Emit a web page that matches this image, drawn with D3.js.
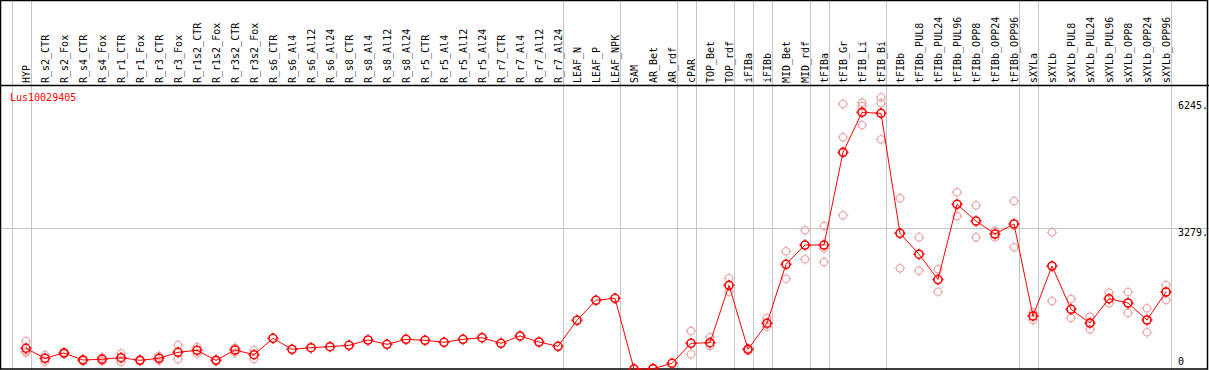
<!DOCTYPE html>
<html>
<head>
<meta charset="utf-8">
<script src="https://cdn.jsdelivr.net/npm/d3@7"></script>
<style>
  body { margin: 0; background: #fff; }
  svg { display: block; }
  text { font-family: "DejaVu Sans Mono", monospace; font-size: 10px; }
</style>
</head>
<body>
<script>
// sample names (columns)
const samples = ["HYP","R_s2_CTR","R_s2_Fox","R_s4_CTR","R_s4_Fox","R_r1_CTR","R_r1_Fox","R_r3_CTR","R_r3_Fox",
  "R_r1s2_CTR","R_r1s2_Fox","R_r3s2_CTR","R_r3s2_Fox","R_s6_CTR","R_s6_Al4","R_s6_Al12","R_s6_Al24",
  "R_s8_CTR","R_s8_Al4","R_s8_Al12","R_s8_Al24","R_r5_CTR","R_r5_Al4","R_r5_Al12","R_r5_Al24",
  "R_r7_CTR","R_r7_Al4","R_r7_Al12","R_r7_Al24","LEAF_N","LEAF_P","LEAF_NPK","SAM","AR_Bet","AR_rdf",
  "cPAR","TOP_Bet","TOP_rdf","iFIBa","iFIBb","MID_Bet","MID_rdf","tFIBa","tFIB_Gr","tFIB_Li","tFIB_Bi",
  "tFIBb","tFIBb_PUL8","tFIBb_PUL24","tFIBb_PUL96","tFIBb_OPP8","tFIBb_OPP24","tFIBb_OPP96",
  "sXYLa","sXYLb","sXYLb_PUL8","sXYLb_PUL24","sXYLb_PUL96","sXYLb_OPP8","sXYLb_OPP24","sXYLb_OPP96"];

// mean expression
const means = [482,249,373,210,226,263,203,249,389,436,203,443,333,715,459,496,520,552,676,575,692,669,622,692,729,
  599,769,629,529,1135,1601,1647,0,8,133,599,613,1950,459,1065,2440,2889,2889,5049,5981,5958,
  3162,2675,2085,3838,3448,3146,3379,1235,2400,1391,1072,1638,1538,1142,1794];

// replicates
const replicates = [[652,380,414],[326,170],[390,356],[225,195],[270,182],[360,166],[215,191],[303,195],[559,226],
  [510,362],[215,191],[496,380],[436,233],[],[],[],[],[],[],[],[],[],[],[],[],[],[],[],[],[],[],[],[],[],[],
  [885,343],[739,536],[2113,1801],[482,426],[1181,986],[2742,2104],[3232,2556],[3332,2812,2493],
  [6175,5399,3581],[6205,6128,5685],[6331,6191,5352],[3977,2346],[3069,2290],[2323,1801],[4117,3565],
  [3814,3069],[3222,3069],[3914,2836],[1321,1142],[3185,1584],[1631,1188],[1219,925],[1778,1531],
  [1794,1305],[1414,855],[1957,1608]];

// first sample of each group
const groupStarts = ["HYP","R_s2_CTR","LEAF_N","SAM","cPAR","TOP_Bet","iFIBa","iFIBb","MID_Bet","tFIBa","tFIB_Gr","tFIBb","sXYLa","sXYLb"];
const yTicks = [6245, 3279, 0];
const gridTicks = [3279];
const geneName = "Lus10029405";

const width = 1209, height = 370;
const svg = d3.select("body").append("svg").attr("width", width).attr("height", height);

const x = d3.scalePoint().domain(samples).range([26, 1166]);
const step = x.step();
const y = d3.scaleLinear().domain([0, 6245]).range([369, 101]);

// vertical group separators
const sepX = groupStarts.map(s => x(s) - step + 4.5).concat([x(samples[samples.length - 1]) + 4.5]);
svg.selectAll(".sep").data(sepX).enter().append("line")
  .attr("x1", d => Math.round(d) + 0.5).attr("x2", d => Math.round(d) + 0.5)
  .attr("y1", 0).attr("y2", height)
  .attr("stroke", "#c4c4c4").attr("stroke-width", 1);

// horizontal grid
svg.selectAll(".grid").data(gridTicks).enter().append("line")
  .attr("x1", 0).attr("x2", width)
  .attr("y1", d => Math.round(y(d)) + 0.5).attr("y2", d => Math.round(y(d)) + 0.5)
  .attr("stroke", "#c4c4c4").attr("stroke-width", 1);

// frame
svg.append("rect").attr("x", 0.5).attr("y", 0.5).attr("width", width - 2).attr("height", height - 1.5)
  .attr("fill", "none").attr("stroke", "#000").attr("stroke-width", 1.5);
svg.append("line").attr("x1", 0).attr("x2", width).attr("y1", 85.5).attr("y2", 85.5)
  .attr("stroke", "#000").attr("stroke-width", 1.5);

// column labels
svg.selectAll(".lab").data(samples).enter().append("text")
  .attr("transform", d => `translate(${x(d) + 3.5},83) rotate(-90)`)
  .attr("fill", "#000")
  .text(d => d);

// y tick labels
svg.selectAll(".tick").data(yTicks).enter().append("text")
  .attr("x", 1178)
  .attr("y", d => d === 0 ? 365 : y(d) + 8)
  .attr("fill", "#000")
  .text(d => d === 0 ? "0" : d + ".");

svg.append("text").attr("x", 10).attr("y", 101).attr("fill", "#ff0000").text(geneName);

// marker: circle with small ticks
function marker(r) {
  const t = r + 1.5;
  return `M${-r},0A${r},${r} 0 1,0 ${r},0A${r},${r} 0 1,0 ${-r},0` +
    `M0,${-r}L0,${-t}M0,${r}L0,${t}M${-r},0L${-t},0M${r},0L${t},0`;
}

const reps = [];
samples.forEach((s, i) => replicates[i].forEach(v => reps.push({ s, v })));
svg.selectAll(".rep").data(reps).enter().append("path")
  .attr("transform", d => `translate(${x(d.s)},${y(d.v)})`)
  .attr("d", marker(3.8))
  .attr("fill", "none").attr("stroke", "#ec9a9a").attr("stroke-width", 1);

const line = d3.line().x((d, i) => x(samples[i])).y(d => y(d));
svg.append("path").datum(means).attr("d", line)
  .attr("fill", "none").attr("stroke", "#ff0000").attr("stroke-width", 1);

svg.selectAll(".mean").data(means).enter().append("path")
  .attr("transform", (d, i) => `translate(${x(samples[i])},${y(d)})`)
  .attr("d", marker(4))
  .attr("fill", "none").attr("stroke", "#ff0000").attr("stroke-width", 1.6);
</script>
</body>
</html>
